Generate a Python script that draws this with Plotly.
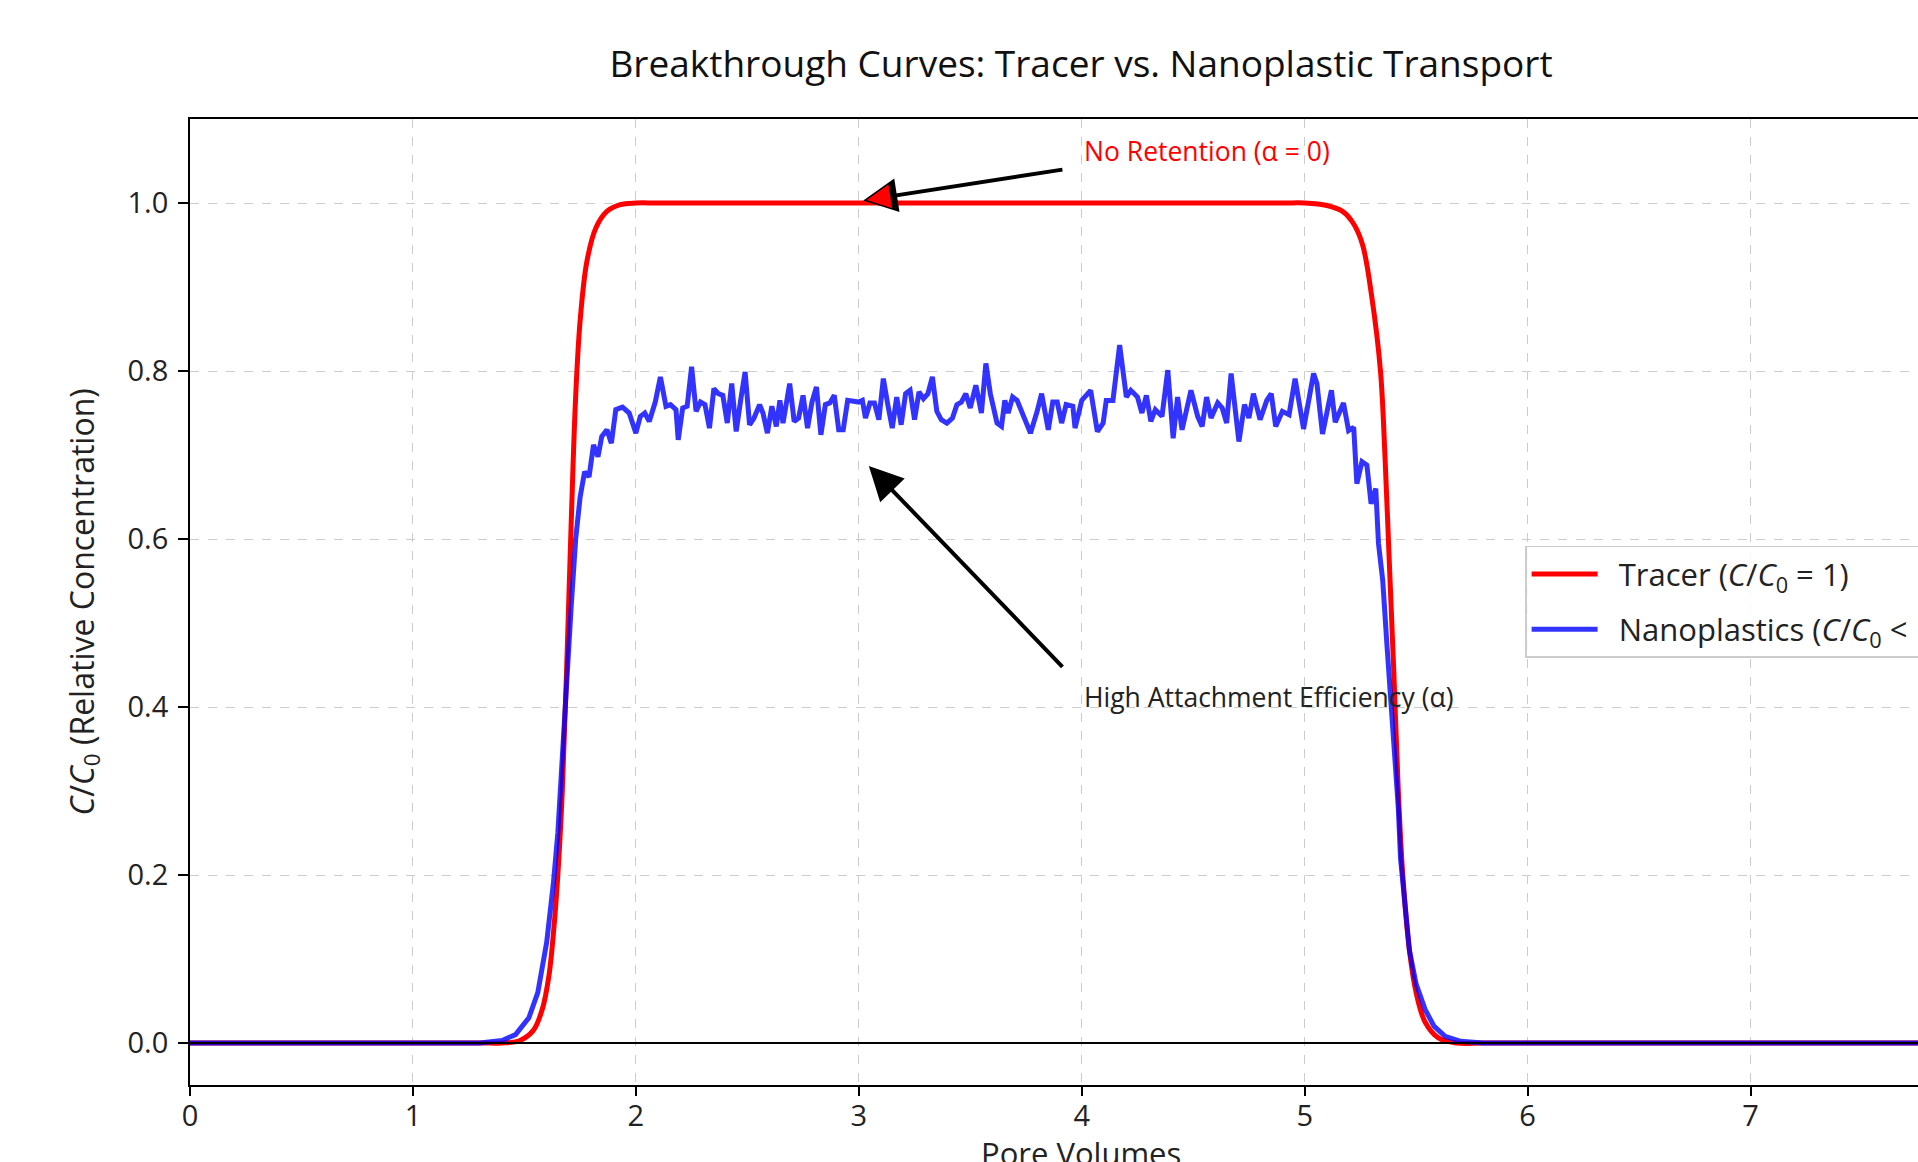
import plotly.graph_objects as go

# ---------------- data ----------------
tracer_x = [0.0, 0.5, 1.0, 1.30, 1.40, 1.48, 1.54, 1.58, 1.61, 1.63, 1.65, 1.67, 1.69, 1.71, 1.73,
            1.75, 1.78, 1.82, 1.87, 1.93, 2.00, 2.10, 2.5, 3.0, 3.5, 4.0, 4.5, 4.9, 5.00, 5.10,
            5.17, 5.22, 5.26, 5.30, 5.34, 5.36, 5.38, 5.40, 5.42, 5.44, 5.47, 5.50, 5.54, 5.60,
            5.68, 5.80, 6.0, 6.5, 7.0, 7.5, 8.0]
tracer_y = [0.0, 0.0, 0.0, 0.0, 0.0, 0.003, 0.015, 0.04, 0.08, 0.13, 0.20, 0.30, 0.45, 0.62, 0.77,
            0.86, 0.93, 0.97, 0.99, 0.998, 1.0, 1.0, 1.0, 1.0, 1.0, 1.0, 1.0, 1.0, 1.0, 0.997,
            0.99, 0.975, 0.95, 0.89, 0.80, 0.70, 0.57, 0.44, 0.30, 0.20, 0.11, 0.06, 0.025, 0.006,
            0.0, 0.0, 0.0, 0.0, 0.0, 0.0, 0.0]

nano_x = [0.0, 1.30, 1.40, 1.46, 1.52, 1.56, 1.60, 1.63, 1.65, 1.67, 1.69, 1.71, 1.73, 1.75, 1.77,
          1.79, 1.81, 1.83, 1.847, 1.87, 1.89, 1.91, 1.94, 1.97, 2.00, 2.02, 2.04, 2.06, 2.087,
          2.11, 2.135, 2.155, 2.18, 2.19, 2.21, 2.23, 2.25, 2.27, 2.29, 2.31, 2.33, 2.35, 2.37,
          2.39, 2.41, 2.43, 2.45, 2.47, 2.49, 2.51, 2.53, 2.555, 2.57, 2.59, 2.61, 2.63, 2.646,
          2.66, 2.69, 2.71, 2.73, 2.75, 2.77, 2.79, 2.81, 2.83, 2.85, 2.87, 2.89, 2.91, 2.93,
          2.95, 2.98, 3.00, 3.016, 3.03, 3.05, 3.07, 3.09, 3.11, 3.13, 3.15, 3.17, 3.19, 3.21,
          3.23, 3.25, 3.27, 3.29, 3.31, 3.33, 3.35, 3.37, 3.395, 3.42, 3.44, 3.46, 3.48, 3.50,
          3.525, 3.55, 3.57, 3.59, 3.62, 3.64, 3.655, 3.67, 3.69, 3.71, 3.74, 3.77, 3.80, 3.82,
          3.85, 3.87, 3.89, 3.91, 3.93, 3.96, 3.97, 4.00, 4.04, 4.07, 4.096, 4.11, 4.14, 4.17,
          4.20, 4.22, 4.25, 4.27, 4.29, 4.31, 4.33, 4.36, 4.386, 4.41, 4.43, 4.45, 4.49, 4.52,
          4.54, 4.56, 4.58, 4.61, 4.63, 4.65, 4.67, 4.705, 4.73, 4.75, 4.77, 4.80, 4.83, 4.85,
          4.87, 4.90, 4.93, 4.957, 4.995, 5.04, 5.055, 5.08, 5.12, 5.137, 5.174, 5.197, 5.22,
          5.234, 5.257, 5.279, 5.298, 5.319, 5.331, 5.35, 5.37, 5.39, 5.41, 5.42, 5.43, 5.45,
          5.47, 5.50, 5.54, 5.58, 5.63, 5.70, 5.80, 8.0]
nano_y = [0.0, 0.0, 0.003, 0.01, 0.03, 0.06, 0.12, 0.19, 0.25, 0.33, 0.43, 0.52, 0.60, 0.65, 0.68,
          0.674, 0.712, 0.698, 0.722, 0.73, 0.714, 0.754, 0.757, 0.75, 0.726, 0.746, 0.75, 0.74, 0.763,
          0.793, 0.758, 0.76, 0.754, 0.718, 0.756, 0.758, 0.805, 0.752, 0.763, 0.76, 0.732, 0.779, 0.773,
          0.771, 0.738, 0.785, 0.728, 0.765, 0.799, 0.736, 0.744, 0.76, 0.75, 0.726, 0.758, 0.734, 0.765,
          0.738, 0.785, 0.74, 0.744, 0.771, 0.732, 0.763, 0.781, 0.724, 0.76, 0.762, 0.771, 0.73, 0.73,
          0.765, 0.763, 0.763, 0.765, 0.744, 0.762, 0.762, 0.742, 0.791, 0.76, 0.732, 0.769, 0.736, 0.773,
          0.777, 0.742, 0.775, 0.767, 0.773, 0.793, 0.752, 0.742, 0.738, 0.744, 0.76, 0.763, 0.773, 0.756,
          0.783, 0.75, 0.809, 0.773, 0.738, 0.734, 0.765, 0.75, 0.769, 0.765, 0.746, 0.726, 0.752, 0.773,
          0.73, 0.763, 0.763, 0.738, 0.76, 0.758, 0.732, 0.765, 0.777, 0.728, 0.738, 0.765, 0.765, 0.831,
          0.769, 0.777, 0.769, 0.75, 0.771, 0.74, 0.754, 0.746, 0.801, 0.72, 0.769, 0.73, 0.777, 0.746,
          0.734, 0.769, 0.744, 0.762, 0.756, 0.738, 0.797, 0.716, 0.76, 0.744, 0.773, 0.742, 0.765, 0.773,
          0.734, 0.752, 0.748, 0.791, 0.731, 0.797, 0.785, 0.725, 0.777, 0.739, 0.762, 0.729, 0.733,
          0.666, 0.692, 0.688, 0.642, 0.660, 0.595, 0.551, 0.47, 0.40, 0.33, 0.28, 0.22, 0.16,
          0.11, 0.07, 0.04, 0.02, 0.008, 0.002, 0.0, 0.0]

x_ticks = [0, 1, 2, 3, 4, 5, 6, 7]
y_ticks = [0.0, 0.2, 0.4, 0.6, 0.8, 1.0]
y_tick_labels = ["0.0", "0.2", "0.4", "0.6", "0.8", "1.0"]

FONT = "Open Sans"
TXT = "#222222"
NB = "\u00a0"

# full-window figure; the page's default body margin is removed by a post script
W, H = 1918, 1162
L, T, B = 189.5, 118.7, 77.3
PX_PER_X = 223.0
x_max = (W - L) / PX_PER_X

fig = go.Figure()
fig.add_trace(go.Scatter(x=tracer_x, y=tracer_y, mode="lines", line_shape="spline",
                         line=dict(color="#ff0000", width=5),
                         name=NB * 2 + "Tracer (<i>C</i>/<i>C</i><sub>0</sub> = 1)", legendgroup="a"))
fig.add_trace(go.Scatter(x=nano_x, y=nano_y, mode="lines",
                         line=dict(color="rgba(0,0,255,0.8)", width=5),
                         name=NB * 2 + "Nanoplastics (<i>C</i>/<i>C</i><sub>0</sub> &lt; 1)",
                         legendgroup="b"))

# baseline at zero
fig.add_shape(type="line", xref="paper", yref="y", x0=0, x1=1, y0=0, y1=0,
              line=dict(color="black", width=1.8), layer="above")

# arrows
fig.add_annotation(x=3.02, y=1.003, ax=3.92, ay=1.04, xref="x", yref="y", axref="x", ayref="y",
                   text="", showarrow=True, arrowhead=2, arrowsize=1.7, arrowwidth=4,
                   arrowcolor="black")
# red fill of the first arrow head
fig.add_annotation(x=3.035, y=1.0035, ax=3.14, ay=1.0078, xref="x", yref="y", axref="x", ayref="y",
                   text="", showarrow=True, arrowhead=2, arrowsize=2.4, arrowwidth=2,
                   arrowcolor="#ff0000")
fig.add_annotation(x=3.045, y=0.687, ax=3.92, ay=0.446, xref="x", yref="y", axref="x", ayref="y",
                   text="", showarrow=True, arrowhead=2, arrowsize=1.7, arrowwidth=4,
                   arrowcolor="black")
# annotation texts
fig.add_annotation(x=4.0, y=1.038, xref="x", yref="y", text="No Retention (α = 0)",
                   showarrow=False, xanchor="left", yanchor="bottom",
                   font=dict(family=FONT, size=26.5, color="#ff0000"))
fig.add_annotation(x=4.0, y=0.388, xref="x", yref="y", text="High Attachment Efficiency (α)",
                   showarrow=False, xanchor="left", yanchor="bottom",
                   font=dict(family=FONT, size=26.5, color=TXT))

# axis titles as annotations (x title partly cropped like the reference)
fig.add_annotation(x=(83 - L) / (W - L), y=0.5, xref="paper", yref="paper",
                   text="<i>C</i>/<i>C</i><sub>0</sub> (Relative Concentration)",
                   textangle=-90, showarrow=False, xanchor="center", yanchor="middle",
                   font=dict(family=FONT, size=32, color=TXT))
fig.add_annotation(x=(1081 - L) / (W - L), y=-0.047, xref="paper", yref="paper", text="Pore Volumes",
                   showarrow=False, xanchor="center", yanchor="top",
                   font=dict(family=FONT, size=31, color=TXT))

fig.update_layout(
    width=W, height=H,
    margin=dict(l=L, r=0, t=T, b=B, autoexpand=False),
    paper_bgcolor="white", plot_bgcolor="white",
    title=dict(text="Breakthrough Curves: Tracer vs. Nanoplastic Transport",
               x=1081 / W, xref="container", xanchor="center",
               y=1 - 64 / H, yref="container", yanchor="middle",
               font=dict(family=FONT, size=37, color="#111111")),
    font=dict(family=FONT, size=28, color=TXT),
    showlegend=True,
    legend=dict(x=(1525 - L) / (W - L), y=0.5582, xanchor="left", yanchor="top",
                bgcolor="rgba(255,255,255,0.85)", bordercolor="#cccccc", borderwidth=1.5,
                font=dict(family=FONT, size=31, color=TXT), itemwidth=66,
                traceorder="grouped", tracegroupgap=12),
)
fig.update_xaxes(range=[0, x_max], tickvals=x_ticks, ticktext=[str(v) for v in x_ticks],
                 showline=True, linecolor="black", linewidth=1.8, mirror=True,
                 ticks="outside", ticklen=9, tickwidth=1.5, tickcolor="black",
                 ticklabelstandoff=-5,
                 showgrid=True, gridcolor="#cccccc", griddash="dash", gridwidth=1.2,
                 zeroline=False, tickfont=dict(family=FONT, size=29, color=TXT))
fig.update_yaxes(range=[-0.05, 1.1], tickvals=y_ticks, ticktext=y_tick_labels,
                 showline=True, linecolor="black", linewidth=1.8, mirror=False,
                 ticks="outside", ticklen=10, tickwidth=1.5, tickcolor="black",
                 ticklabelstandoff=4,
                 showgrid=True, gridcolor="#cccccc", griddash="dash", gridwidth=1.2,
                 zeroline=False, tickfont=dict(family=FONT, size=29, color=TXT))

fig.write_html("out.html", config={"displayModeBar": False},
               post_script="document.body.style.margin='0';document.body.style.overflow='hidden';")
